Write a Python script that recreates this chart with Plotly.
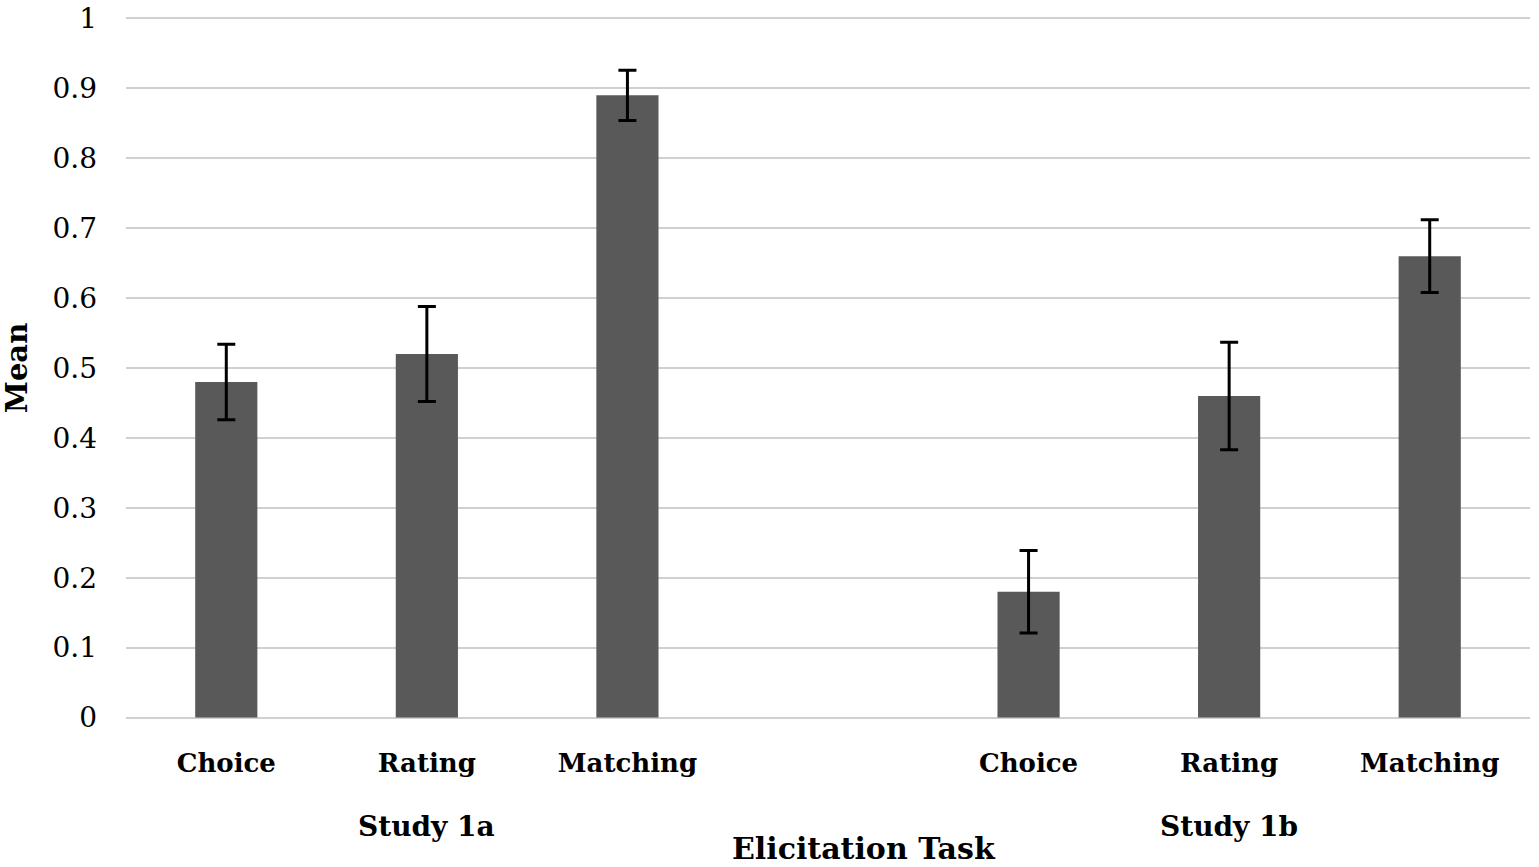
import plotly.graph_objects as go

tasks = ["Choice", "Rating", "Matching", "", "Choice", "Rating", "Matching"]
means = [0.48, 0.52, 0.89, None, 0.18, 0.46, 0.66]
errors = [0.054, 0.068, 0.036, 0, 0.059, 0.077, 0.052]
studies = ["Study 1a", "Study 1b"]
study_centers = [1, 5]
y_ticks = [0, 0.1, 0.2, 0.3, 0.4, 0.5, 0.6, 0.7, 0.8, 0.9, 1]
y_labels = ["0", "0.1", "0.2", "0.3", "0.4", "0.5", "0.6", "0.7", "0.8", "0.9", "1"]

xs = list(range(len(tasks)))
serif = "DejaVu Serif"

fig = go.Figure()
fig.add_trace(go.Bar(
    x=xs, y=means,
    marker=dict(color="#595959", line=dict(width=0)),
    error_y=dict(type="data", array=errors, visible=True,
                 color="#000000", thickness=3, width=9),
    width=0.31,
))

for s, c in zip(studies, study_centers):
    fig.add_annotation(x=c, y=0, xref="x", yref="paper", yshift=-107,
                       xanchor="center", yanchor="middle",
                       text=f"<b>{s}</b>", showarrow=False,
                       font=dict(family=serif, size=28, color="#000"))

fig.add_annotation(x=(864 - 126) / 1404, y=0, xref="paper", yref="paper",
                   xanchor="center", yanchor="middle", yshift=-129,
                   text="<b>Elicitation Task</b>", showarrow=False,
                   font=dict(family=serif, size=30, color="#000"))

fig.update_layout(
    width=1539, height=867,
    margin=dict(l=126, r=9, t=17, b=148),
    paper_bgcolor="white", plot_bgcolor="white",
    showlegend=False,
    font=dict(family=serif, color="#000"),
)
fig.update_xaxes(
    range=[-0.5, 6.5], tickmode="array", tickvals=xs,
    ticktext=[f"<b>{t}</b>" if t else "" for t in tasks],
    tickfont=dict(family=serif, size=26, color="#000"),
    showgrid=False, zeroline=False, showline=False, ticks="",
    ticklabelstandoff=26, automargin=False,
)
fig.update_yaxes(
    range=[-0.002, 1.002], tickmode="array", tickvals=y_ticks, ticktext=y_labels,
    tickfont=dict(family=serif, size=28, color="#000"),
    showgrid=True, gridcolor="#d0d0d0", gridwidth=2,
    zeroline=True, zerolinecolor="#d0d0d0", zerolinewidth=2,
    showline=False, ticks="",
    ticklabelstandoff=28, automargin=False,
    title=dict(text="<b>Mean</b>", font=dict(family=serif, size=29, color="#000"),
               standoff=20),
)

fig.write_html("out.html")
